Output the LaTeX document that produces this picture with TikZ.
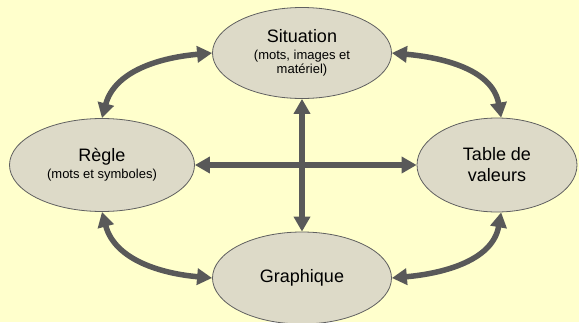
\documentclass[tikz,border=0pt]{standalone}
\usepackage{fontspec}
\setmainfont{Liberation Sans}
\usetikzlibrary{shapes.geometric,arrows.meta}

\definecolor{fond}{RGB}{255,255,204}
\definecolor{bulle}{RGB}{221,218,200}
\definecolor{trait}{RGB}{96,96,96}
\definecolor{fleche}{RGB}{89,89,89}

\newcommand{\titre}{\fontsize{18}{21}\selectfont}
\newcommand{\detail}{\fontsize{13}{14}\selectfont}

\begin{document}
\begin{tikzpicture}[x=1pt,y=-1pt,>/.tip={Triangle[length=15pt,width=16pt]},
    bulle/.style={ellipse,draw=trait,line width=0.8pt,fill=bulle,
      inner sep=0pt,align=center},
    lien/.style={<->,draw=fleche,line width=5.5pt}]
    % The background
    \fill[fond] (0,0) rectangle (579,322);
    \useasboundingbox (0,0) rectangle (579,322);
    % The four representations
    \node[bulle,font=\detail,minimum width=179pt,minimum height=91pt] (situation) at (302,53)
      {{\titre Situation}\\[3pt](mots, images et\\matériel)};
    \node[bulle,font=\detail,minimum width=185pt,minimum height=93pt] (regle) at (102,165)
      {{\titre Règle}\\[3pt](mots et symboles)};
    \node[bulle,font=\titre,minimum width=160pt,minimum height=94pt] (table) at (497,165)
      {Table de\\valeurs};
    \node[bulle,font=\titre,minimum width=179pt,minimum height=92pt] (graphique) at (302,278)
      {Graphique};
    % The links
    \draw[lien] (situation.south) -- (graphique.north);
    \draw[lien] (regle.east) -- (table.west);
    \draw[lien] (regle.north) to[out=75,in=185] (situation.west);
    \draw[lien] (situation.east) to[out=-5,in=100] (table.85);
    \draw[lien] (regle.south) to[out=-75,in=175] (graphique.west);
    \draw[lien] (table.275) to[out=-100,in=5] (graphique.east);
\end{tikzpicture}
\end{document}
